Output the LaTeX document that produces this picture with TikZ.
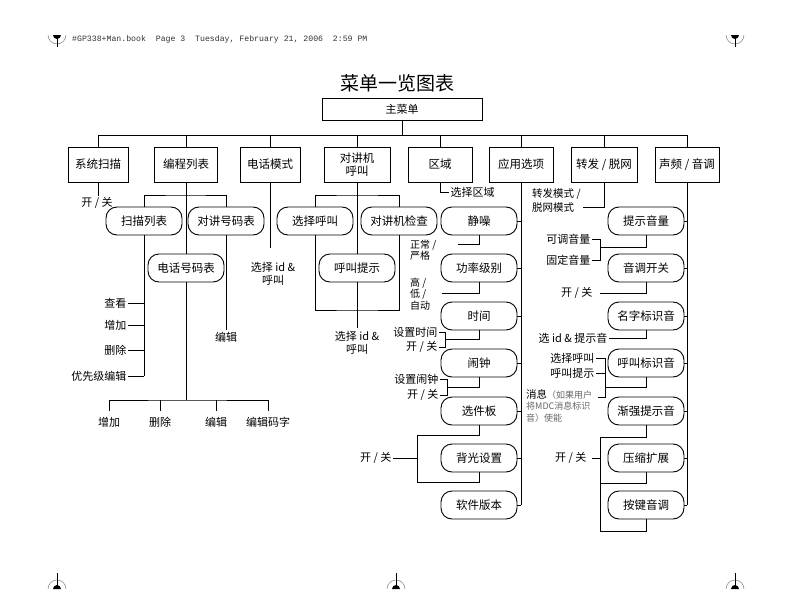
\documentclass[tikz,border=0pt]{standalone}
\usepackage{fontspec}
\newfontfamily\cjk{Noto Sans CJK SC}
\newfontfamily\hdrmono{Liberation Mono}
\begin{document}
\begin{tikzpicture}[x=1pt,y=-1pt,
  ln/.style={line width=0.9pt},
  topbox/.style={draw, line width=0.9pt, minimum height=35pt, inner sep=0pt, align=center, font=\cjk\fontsize{11.5}{12.5}\selectfont},
  rbox/.style={draw, line width=0.9pt, rounded corners=11pt, minimum width=76pt, minimum height=28pt, inner sep=0pt, font=\cjk\fontsize{11.5}{13}\selectfont},
  lbl/.style={inner sep=1.5pt, font=\cjk\fontsize{11}{13}\selectfont},
  slbl/.style={inner sep=1pt, align=left, font=\cjk\fontsize{10}{11.5}\selectfont},
  regarc/.style={draw=black!50, line width=0.5pt}]
\useasboundingbox (0,0) rectangle (793,613);

% header
\node[anchor=west, inner sep=0pt, text=black!80, font=\hdrmono\fontsize{8.2}{10}\selectfont] (hdr) at (72,39) {\#GP338+Man.book\ \ Page 3\ \ Tuesday, February 21, 2006\ \ 2:59 PM};

% registration marks
\foreach \x in {57,735} {
  \draw[regarc] (\x-9,35) arc[start angle=180, end angle=360, radius=9pt];
  \fill (\x-4,35) arc[start angle=180, end angle=360, radius=4pt] -- cycle;
  \draw[line width=0.6pt] (\x,35) -- (\x,47);
}
\foreach \x in {57,396,735} {
  \draw[regarc] (\x-9,589) arc[start angle=180, end angle=0, radius=9pt];
  \fill (\x-4,589) arc[start angle=180, end angle=0, radius=4pt] -- cycle;
  \draw[line width=0.6pt] (\x,589) -- (\x,573);
}

% title
\node[font=\cjk\fontsize{19}{22}\selectfont] (title) at (397,83) {菜单一览图表};

% main menu
\node[draw, line width=0.9pt, minimum width=160pt, minimum height=22pt, inner sep=0pt, font=\cjk\fontsize{11}{13}\selectfont] (main) at (402,109) {主菜单};

% top level
\node[topbox, minimum width=60pt] (sys) at (98,164.5) {系统扫描};
\node[topbox, minimum width=63pt] (prog) at (186,164.5) {编程列表};
\node[topbox, minimum width=60pt] (tel) at (270,164.5) {电话模式};
\node[topbox, minimum width=66pt] (ic) at (357,164.5) {对讲机\\呼叫};
\node[topbox, minimum width=64pt] (zone) at (440,164.5) {区域};
\node[topbox, minimum width=64pt] (app) at (521,164.5) {应用选项};
\node[topbox, minimum width=66pt] (fwd) at (604,164.5) {转发 / 脱网};
\node[topbox, minimum width=64pt] (aud) at (687,164.5) {声频 / 音调};

\coordinate (busL) at (98,135);
\coordinate (busR) at (687,135);
\draw[ln] (busL) -- (busR);
\draw[ln] (main.south) -- (main.south |- busL);
\foreach \n in {sys,prog,tel,ic,zone,app,fwd,aud} \draw[ln] (\n.north) -- (\n.north |- busL);

% system scan
\node[lbl] (sysOn) at (97,203) {开 / 关};
\draw[ln] (sys.south) -- (sys.south |- sysOn.north);

% program list
\node[rbox] (scan) at (144,221) {扫描列表};
\node[rbox] (icl) at (226,221) {对讲号码表};
\node[rbox] (tpl) at (186,268) {电话号码表};
\coordinate (pbus) at (186,195);
\draw[ln] (prog.south) -- (tpl.north);
\draw[ln] (scan.north) |- (pbus) -| (icl.north);

\node[lbl, anchor=east] (view) at (128,303) {查看};
\node[lbl, anchor=east] (add1) at (128,325) {增加};
\node[lbl, anchor=east] (del1) at (128,350) {删除};
\node[lbl, anchor=east] (pri) at (128,376) {优先级编辑};
\draw[ln] (scan.south) -- (scan.south |- pri.east);
\foreach \n in {view,add1,del1,pri} \draw[ln] (\n.east) -- (\n.east -| scan.south);

\node[lbl] (ed1) at (226,337) {编辑};
\draw[ln] (icl.south) -- (icl.south |- ed1.north);

\node[lbl] (add2) at (109,422) {增加};
\node[lbl] (del2) at (160,422) {删除};
\node[lbl] (ed2) at (216,422) {编辑};
\node[lbl] (edc) at (268,422) {编辑码字};
\coordinate (tbus) at (186,400);
\draw[ln] (tpl.south) -- (tbus);
\draw[ln] ([yshift=4pt]add2.north) |- (tbus) -| ([yshift=4pt]edc.north);
\draw[ln] ([yshift=4pt]del2.north) -- (del2.north |- tbus);
\draw[ln] ([yshift=4pt]ed2.north) -- (ed2.north |- tbus);

% telephone mode
\node[lbl, align=center] (telL) at (273,274) {选择 id \&\\呼叫};
\coordinate (telE) at (270,248);
\draw[ln] (tel.south) -- (telE);

% intercom call
\node[rbox] (selc) at (315,221) {选择呼叫};
\node[rbox] (ick) at (399,221) {对讲机检查};
\node[rbox] (callp) at (357,268) {呼叫提示};
\coordinate (ibus) at (357,195);
\coordinate (ibus2) at (357,310);
\draw[ln] (ic.south) -- (callp.north);
\draw[ln] (selc.north) |- (ibus) -| (ick.north);
\draw[ln] (selc.south) |- (ibus2) -| (ick.south);
\node[lbl, align=center] (icL) at (357,343) {选择 id \&\\呼叫};
\draw[ln] (callp.south) -- ([yshift=2pt]callp.south |- icL.north);

% zone
\node[lbl, anchor=west] (zsel) at (449,192) {选择区域};
\draw[ln] (zone.south) |- (zsel.west);

% application options
\node[rbox] (a1) at (479,221) {静噪};
\node[rbox] (a2) at (479,268) {功率级别};
\node[rbox] (a3) at (479,316) {时间};
\node[rbox] (a4) at (479,363) {闹钟};
\node[rbox] (a5) at (479,411) {选件板};
\node[rbox] (a6) at (479,458) {背光设置};
\node[rbox] (a7) at (479,505) {软件版本};
\draw[ln] (app.south) -- (app.south |- a7.east);
\foreach \n in {a1,a2,a3,a4,a5,a6,a7} \draw[ln] (\n.east) -- (\n.east -| app.south);

\node[slbl, anchor=west] (nrm) at (409,250) {正常 /\\严格};
\coordinate (nrmE) at (458,244);
\draw[ln] (a1.south) |- (nrmE);

\node[slbl, anchor=west] (hlo) at (409,294) {高 /\\低 /\\自动};
\coordinate (hloE) at (442,293);
\draw[ln] (a2.south) |- (hloE);

\node[lbl, anchor=east] (stime) at (439,332) {设置时间};
\node[lbl, anchor=east] (ton) at (439,347) {开 / 关};
\draw[ln] (stime.east) -- ++(6,0) |- (ton.east);
\coordinate (tbr) at (445,339);
\draw[ln] (a3.south) |- (tbr);

\node[lbl, anchor=east] (salarm) at (440,379) {设置闹钟};
\node[lbl, anchor=east] (aon) at (440,395) {开 / 关};
\draw[ln] (salarm.east) -- ++(7,0) |- (aon.east);
\coordinate (abr) at (447,387);
\draw[ln] (a4.south) |- (abr);

\coordinate (o1) at (417,435);
\coordinate (o2) at (417,482);
\draw[ln] (a5.south) |- (o1) -- (o2) -| (a6.south);
\node[lbl, anchor=east] (blon) at (393,458) {开 / 关};
\draw[ln] (blon.east) -- (blon.east -| o1);

% forward / talkaround
\node[slbl, anchor=west, font=\cjk\fontsize{10.5}{14}\selectfont] (fmode) at (531,200) {转发模式 /\\脱网模式};
\coordinate (fE) at (583,207);
\draw[ln] (fwd.south) |- (fE);

% audio / tones
\node[rbox] (b1) at (646,221) {提示音量};
\node[rbox] (b2) at (646,268) {音调开关};
\node[rbox] (b3) at (646,316) {名字标识音};
\node[rbox] (b4) at (646,363) {呼叫标识音};
\node[rbox] (b5) at (646,411) {渐强提示音};
\node[rbox] (b6) at (646,458) {压缩扩展};
\node[rbox] (b7) at (646,505) {按键音调};
\draw[ln] (aud.south) -- (aud.south |- b7.east);
\foreach \n in {b1,b2,b3,b4,b5,b6,b7} \draw[ln] (\n.east) -- (\n.east -| aud.south);

\node[lbl, anchor=east] (adj) at (592,239) {可调音量};
\node[lbl, anchor=east] (fix) at (592,260) {固定音量};
\draw[ln] (adj.east) -- ++(8,0) |- (fix.east);
\coordinate (b1br) at (600,247);
\draw[ln] (b1.south) |- (b1br);

\node[lbl, anchor=east] (b2on) at (594,293) {开 / 关};
\coordinate (b2E) at (600,293);
\draw[ln] (b2.south) |- (b2E);

\node[lbl, anchor=east] (b3l) at (609,338) {选 id \& 提示音};
\draw[ln] (b3.south) |- (b3l.east);

\node[lbl, anchor=east] (sc) at (596,358) {选择呼叫};
\node[lbl, anchor=east] (cp) at (596,373) {呼叫提示};
\node[anchor=north west, align=left, inner sep=0pt, font=\cjk\fontsize{9}{11.5}\selectfont, text=black!60] (msg) at (526,389) {{\color{black}\fontsize{10.5}{11.5}\selectfont 消息}（如果用户\\将MDC消息标识\\音）使能};
\coordinate (m1) at (598,397);
\draw[ln] (sc.east) -- ++(9,0) coordinate (brt) |- (m1);
\draw[ln] (cp.east) -- (cp.east -| brt);
\coordinate (b4br) at (605,387);
\draw[ln] (b4.south) |- (b4br);

\coordinate (c1) at (600,437);
\coordinate (c2) at (600,531);
\coordinate (c3) at (600,483);
\draw[ln] (b5.south) |- (c1) -- (c2) -| (b7.south);
\draw[ln] (c3) -| (b6.south);
\node[lbl, anchor=east] (b6on) at (588,458) {开 / 关};
\draw[ln] ([xshift=4pt]b6on.east) -- (b6on.east -| c1);
\end{tikzpicture}
\end{document}
